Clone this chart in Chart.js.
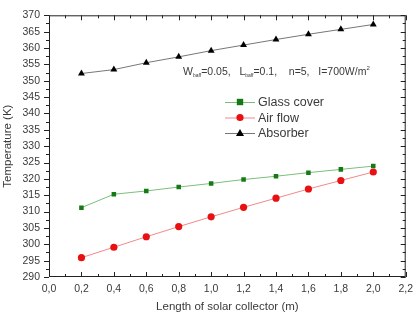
<!DOCTYPE html>
<html>
<head>
<meta charset="utf-8">
<script src="https://cdn.jsdelivr.net/npm/chart.js@4/dist/chart.umd.min.js"></script>
<style>
  html, body { margin: 0; padding: 0; background: #fff; }
  #wrap { width: 419px; height: 319px; }
</style>
</head>
<body>
<div id="wrap"><canvas id="myChart"></canvas></div>
<script>
const ctx = document.getElementById('myChart')

// values
const lengths = [0.2, 0.4, 0.6, 0.8, 1.0, 1.2, 1.4, 1.6, 1.8, 2.0]
const glassCover = [311.2, 315.3, 316.3, 317.5, 318.6, 319.8, 320.8, 321.9, 322.9, 323.9]
const airFlow = [295.9, 299.1, 302.3, 305.4, 308.4, 311.3, 314.1, 316.9, 319.5, 322.1]
const absorber = [352.2, 353.4, 355.5, 357.3, 359.2, 360.9, 362.6, 364.2, 365.7, 367.2]
const seriesNames = ['Glass cover', 'Air flow', 'Absorber']

const xMin = 0, xMax = 2.2, xStep = 0.2
const yMin = 290, yMax = 370, yStep = 5

const textColor = '#3a3a3a'
const font = 'Liberation Sans, Arial, sans-serif'

function toPoints(ys) {
    return ys.map((y, i) => ({ x: lengths[i], y: y }))
}

function comma(v) {
    return v.toFixed(1).replace('.', ',')
}

// ticks all round the frame, legend and the parameter line
const frame = {
    id: 'frame',
    afterDraw(chart) {
        const c = chart.ctx
        const a = chart.chartArea
        const xs = chart.scales.x
        const ys = chart.scales.y
        c.save()
        c.strokeStyle = '#222'
        c.lineWidth = 1
        c.strokeRect(a.left + 0.5, a.top + 0.5, a.right - a.left - 1, a.bottom - a.top - 1)
        c.beginPath()
        for (let i = 0; i <= Math.round((xMax - xMin) / (xStep / 2)); i++) {
            const v = xMin + i * xStep / 2
            const px = Math.round(xs.getPixelForValue(v)) + 0.5
            const len = i % 2 === 0 ? 5 : 3
            c.moveTo(px, a.bottom); c.lineTo(px, a.bottom - len)
            c.moveTo(px, a.top); c.lineTo(px, a.top + len)
        }
        for (let i = 0; i <= Math.round((yMax - yMin) / (yStep / 2)); i++) {
            const v = yMin + i * yStep / 2
            const py = Math.round(ys.getPixelForValue(v)) + 0.5
            const len = i % 2 === 0 ? 5 : 3
            c.moveTo(a.left, py); c.lineTo(a.left - len, py)
            c.moveTo(a.right, py); c.lineTo(a.right - len, py)
        }
        c.stroke()

        // legend
        const lx = 225, ly = 102, gap = 15.5
        chart.data.datasets.forEach((ds, i) => {
            const y = ly + i * gap
            c.strokeStyle = ds.borderColor
            c.lineWidth = 1
            c.beginPath(); c.moveTo(lx, y + 0.5); c.lineTo(lx + 30, y + 0.5); c.stroke()
            c.fillStyle = ds.pointBackgroundColor
            const s = ds.pointRadius
            if (ds.pointStyle === 'rect') {
                c.fillRect(lx + 15 - s, y - s, 2 * s, 2 * s)
            } else if (ds.pointStyle === 'circle') {
                c.beginPath(); c.arc(lx + 15, y, s, 0, Math.PI * 2); c.fill()
            } else {
                c.beginPath()
                c.moveTo(lx + 15, y - s); c.lineTo(lx + 15 + s, y + s * 0.75); c.lineTo(lx + 15 - s, y + s * 0.75)
                c.closePath(); c.fill()
            }
            c.fillStyle = textColor
            c.font = '12.5px ' + font
            c.textBaseline = 'middle'
            c.textAlign = 'left'
            c.fillText(ds.label, lx + 33, y + 1)
        })

        // parameters
        let tx = 183
        const ty = 75
        c.fillStyle = textColor
        c.textBaseline = 'alphabetic'
        const parts = [
            ['W', 10.5, 0], ['baff', 5, 2], ['=0.05,   L', 10.5, 0], ['baff', 5, 2],
            ['=0.1,    n=5,   I=700W/m', 10.5, 0], ['2', 6, -5]
        ]
        parts.forEach(p => {
            c.font = p[1] + 'px ' + font
            c.fillText(p[0], tx, ty + p[2])
            tx += c.measureText(p[0]).width
        })
        c.restore()
    }
}

const myChart = new Chart(ctx, {
    type: 'line',
    data: {
        datasets: [{
            label: seriesNames[0],
            data: toPoints(glassCover),
            borderColor: '#7cbf7c',
            borderWidth: 1,
            pointStyle: 'rect',
            pointRadius: 3.2,
            pointBackgroundColor: '#157a15',
            pointBorderColor: '#157a15',
            pointBorderWidth: 0,
            fill: false
        }, {
            label: seriesNames[1],
            data: toPoints(airFlow),
            borderColor: '#f08a8a',
            borderWidth: 1,
            pointStyle: 'circle',
            pointRadius: 3.6,
            pointBackgroundColor: '#e81010',
            pointBorderColor: '#e81010',
            pointBorderWidth: 0,
            fill: false
        }, {
            label: seriesNames[2],
            data: toPoints(absorber),
            borderColor: '#777',
            borderWidth: 1,
            pointStyle: 'triangle',
            pointRadius: 4,
            pointBackgroundColor: '#000',
            pointBorderColor: '#000',
            pointBorderWidth: 0,
            fill: false
        }]
    },
    options: {
        responsive: true,
        maintainAspectRatio: false,
        animation: false,
        events: [],
        layout: { autoPadding: false, padding: { top: 5, right: 9, left: 0, bottom: 0 } },
        plugins: { legend: { display: false }, tooltip: { enabled: false } },
        scales: {
            x: {
                type: 'linear',
                min: xMin, max: xMax,
                afterFit(s) { s.height = 42 },
                grid: { display: false, drawTicks: false },
                border: { display: false },
                ticks: {
                    stepSize: xStep,
                    padding: 6,
                    color: textColor,
                    font: { family: font, size: 10.5 },
                    maxRotation: 0,
                    callback: v => comma(v)
                },
                title: {
                    display: true,
                    text: 'Length of solar collector (m)',
                    color: textColor,
                    font: { family: font, size: 11.5 },
                    padding: { top: 0, bottom: 5 }
                }
            },
            y: {
                min: yMin, max: yMax,
                afterFit(s) { s.width = 49 },
                grid: { display: false, drawTicks: false },
                border: { display: false },
                ticks: {
                    stepSize: yStep,
                    padding: 9,
                    color: textColor,
                    font: { family: font, size: 10.5 }
                },
                title: {
                    display: true,
                    text: 'Temperature (K)',
                    color: textColor,
                    font: { family: font, size: 11.5 },
                    padding: { top: 1, bottom: 0 }
                }
            }
        }
    },
    plugins: [frame]
})
</script>
</body>
</html>
